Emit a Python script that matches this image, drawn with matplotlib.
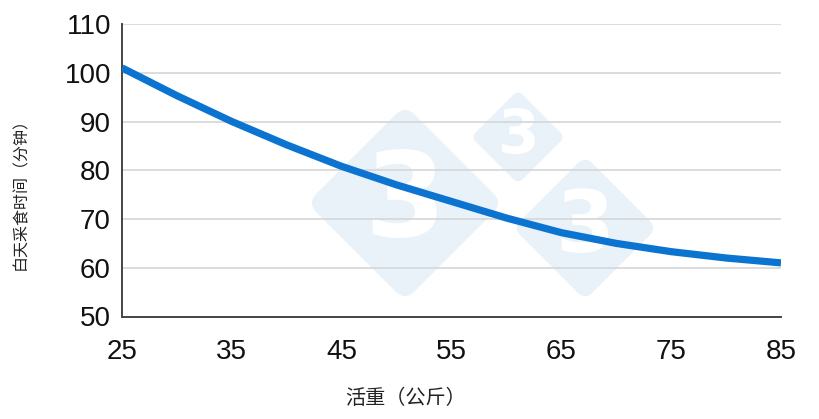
import matplotlib
matplotlib.use("Agg")
import matplotlib.pyplot as plt
from matplotlib.patches import FancyBboxPatch
from matplotlib.transforms import Affine2D

plt.rcParams['font.family'] = ['Liberation Sans', 'Noto Sans CJK SC', 'DejaVu Sans']

# live weight (kg) and daytime feeding time (min)
weight = [25, 30, 35, 40, 45, 50, 55, 60, 65, 70, 75, 80, 85]
feed_minutes = [101, 95.3, 90, 85.2, 80.8, 77, 73.6, 70.2, 67.2, 65, 63.3, 62, 61]

x_ticks = [25, 35, 45, 55, 65, 75, 85]
y_ticks = [50, 60, 70, 80, 90, 100, 110]

x_label = '活重（公斤）'
y_label = '白天采食时间（分钟）'

fig = plt.figure(figsize=(8.2, 4.19), dpi=100)
ax = fig.add_axes([122/820, 1 - 316.5/419, (781-122)/820, (316.5-24)/419])
ax.patch.set_visible(False)

# watermark: three rounded diamonds with a white "3" (pixel coords, y up)
wm_color = '#e9f1f9'
for cx, cy, half, fs in [(405, 216, 98, 84), (518, 282, 47, 43), (585, 191, 72, 61)]:
    side = half * 2 ** 0.5
    r = side * 0.1
    tr = Affine2D().rotate_deg_around(cx, cy, 45).scale(1/100) + fig.dpi_scale_trans
    box = FancyBboxPatch((cx - side/2 + r, cy - side/2 + r), side - 2*r, side - 2*r,
                         boxstyle='round,pad=%.1f' % r, fc=wm_color, ec='none',
                         transform=tr, zorder=-2)
    fig.patches.append(box)
    fig.text(cx/820, cy/419, '3', color='white', fontsize=fs, fontweight='bold',
             family='DejaVu Sans', ha='center', va='center', zorder=-1)

ax.plot(weight, feed_minutes, color='#0b73d0', lw=5.2, solid_capstyle='butt', zorder=3)

ax.set_xlim(25, 85)
ax.set_ylim(50, 110)
ax.set_xticks(x_ticks)
ax.set_yticks(y_ticks)
ax.tick_params(length=0, labelsize=20, labelcolor='#111111')
ax.tick_params(axis='x', pad=16)
ax.tick_params(axis='y', pad=8)
ax.grid(axis='y', color='#d6d6d6', lw=1.2)
ax.set_axisbelow(True)

for s in ['top', 'right']:
    ax.spines[s].set_visible(False)
for s in ['left', 'bottom']:
    ax.spines[s].set_color('#444444')
    ax.spines[s].set_linewidth(1.4)

fig.text(406/820, 1 - 398/419, x_label, fontsize=14.5, color='#222222',
         family=['Noto Sans CJK SC', 'DejaVu Sans'], ha='center', va='center')
fig.text(21/820, 1 - 190/419, y_label, fontsize=11.5, color='#222222', rotation=90,
         family=['Noto Sans CJK SC', 'DejaVu Sans'], ha='center', va='center')

fig.savefig('out.png', dpi=100)
